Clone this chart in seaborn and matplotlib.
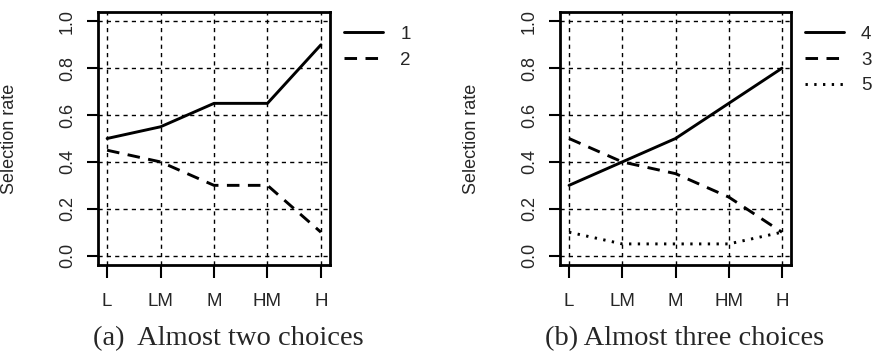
import pandas as pd
import numpy as np
import matplotlib
matplotlib.use('Agg')
import matplotlib.pyplot as plt
import seaborn as sns

levels = ['L', 'LM', 'M', 'HM', 'H']

# panel (a)
rate_a1 = [0.50, 0.55, 0.65, 0.65, 0.90]
rate_a2 = [0.45, 0.40, 0.30, 0.30, 0.10]

# panel (b)
rate_b4 = [0.30, 0.40, 0.50, 0.65, 0.80]
rate_b3 = [0.50, 0.40, 0.35, 0.25, 0.10]
rate_b5 = [0.10, 0.05, 0.05, 0.05, 0.10]

yticks = [0.0, 0.2, 0.4, 0.6, 0.8, 1.0]
captions = ['(a)  Almost two choices', '(b) Almost three choices']

sns.set_style('white')
plt.rcParams['font.family'] = ['Liberation Sans', 'DejaVu Sans']

df_a = pd.DataFrame({
    'level': levels * 2,
    'rate': rate_a1 + rate_a2,
    'series': ['1'] * 5 + ['2'] * 5,
})
df_b = pd.DataFrame({
    'level': levels * 3,
    'rate': rate_b4 + rate_b3 + rate_b5,
    'series': ['4'] * 5 + ['3'] * 5 + ['5'] * 5,
})

dash_map = {'1': '', '4': '', '2': (4.3, 2.9), '3': (4.3, 2.9), '5': (0.8, 2.2)}

fig = plt.figure(figsize=(8.74, 3.53), dpi=100)
ax_a = fig.add_axes([98 / 874, 1 - 265 / 353, 232 / 874, 253 / 353])
ax_b = fig.add_axes([560 / 874, 1 - 265 / 353, 231 / 874, 253 / 353])

panels = [(ax_a, df_a, ['1', '2']), (ax_b, df_b, ['4', '3', '5'])]
for ax, df, order in panels:
    sns.lineplot(data=df, x='level', y='rate', style='series', style_order=order,
                 dashes=dash_map, color='black', linewidth=2.1, legend=False,
                 sort=False, ax=ax)
    ax.set_xlim(-0.17, 4.17)
    ax.set_ylim(-0.04, 1.04)
    ax.set_xticks(range(len(levels)))
    ax.set_xticklabels(levels)
    ax.set_yticks(yticks)
    ax.set_yticklabels([f'{v:.1f}' for v in yticks], rotation=90, va='center')
    ax.grid(True, color='black', linestyle=(0, (3, 3)), linewidth=1.0)
    ax.set_axisbelow(True)
    for sp in ax.spines.values():
        sp.set_color('black')
        sp.set_linewidth(2)
    ax.tick_params(axis='x', which='both', bottom=True, direction='out', length=9,
                   width=1.5, color='black', labelsize=13.5, pad=11)
    ax.tick_params(axis='y', which='both', left=True, direction='out', length=8,
                   width=1.5, color='black', labelsize=13, pad=8)
    ax.set_xlabel('')
    ax.set_ylabel('Selection rate', fontsize=13)
    ax.yaxis.set_label_coords(-0.345, 0.5)
    ax.legend(handles=ax.lines[:len(order)], labels=order, loc='upper left',
              bbox_to_anchor=(1.06, 0.945), frameon=False, fontsize=13.5,
              handlelength=2.1, handletextpad=0.9, labelspacing=0.45,
              borderpad=0, borderaxespad=0)

fig.text(228 / 874, 1 - 339 / 353, captions[0], ha='center', va='center',
         fontsize=20.5, family='Liberation Serif')
fig.text(685 / 874, 1 - 339 / 353, captions[1], ha='center', va='center',
         fontsize=20.5, family='Liberation Serif')

fig.savefig('out.png', dpi=100)
